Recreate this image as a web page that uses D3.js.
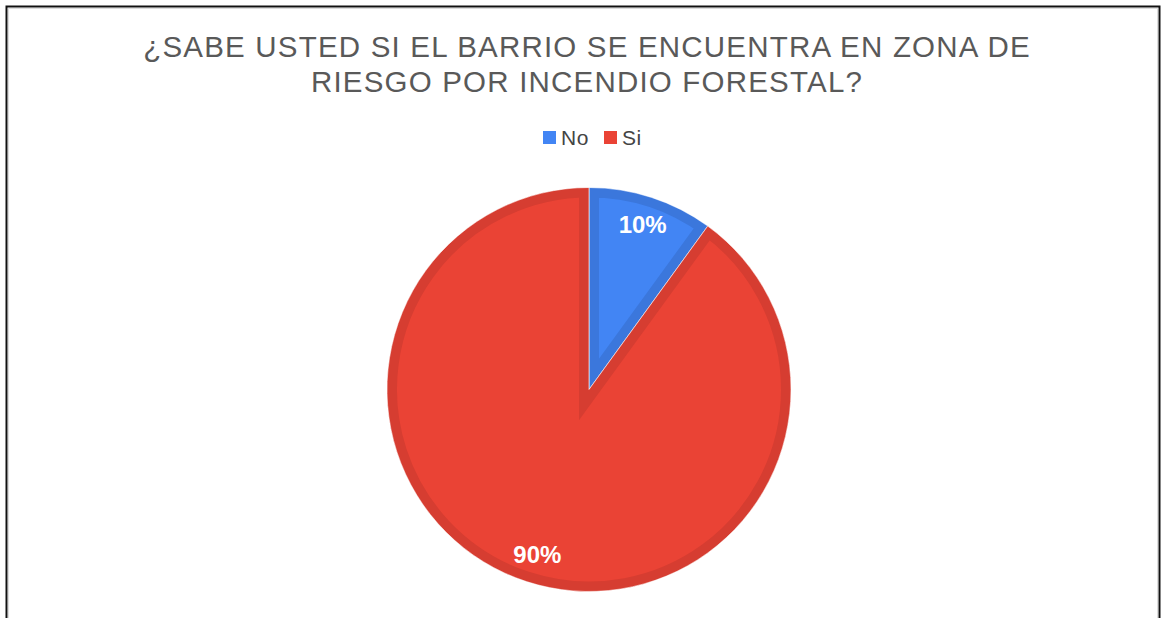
<!DOCTYPE html>
<meta charset="UTF-8">
<head>
    <script src="https://d3js.org/d3.v7.min.js"></script>
    <style>
        body { margin: 0; background: #fff; }
        .title { font: 29.5px "Liberation Sans", Arial, sans-serif; fill: #595959; letter-spacing: 1.2px; }
        .legend text { font: 21px "Liberation Sans", Arial, sans-serif; fill: #444; letter-spacing: 0.5px; }
        .label { font: bold 24px "Liberation Sans", Arial, sans-serif; fill: #fff; }
    </style>
</head>
<body>
<script>
    // chart data
    var categories = ["No", "Si"];
    var values = [10, 90];
    var labels = ["10%", "90%"];
    var titleLines = ["¿SABE USTED SI EL BARRIO SE ENCUENTRA EN ZONA DE", "RIESGO POR INCENDIO FORESTAL?"];

    var fills = ["#4285f4", "#ea4335"];
    var borders = ["#3b77dc", "#d63d31"];

    var width = 1164, height = 618;
    var cx = 589, cy = 389.5, radius = 202;

    var svg = d3.select("body").append("svg")
        .attr("width", width)
        .attr("height", height);

    // frame around the chart
    svg.append("rect")
        .attr("x", 6.5).attr("y", 6.5)
        .attr("width", 1153).attr("height", 640)
        .attr("fill", "none")
        .attr("stroke", "#111")
        .attr("stroke-width", 2);
    svg.append("rect")
        .attr("x", 8.5).attr("y", 8.5)
        .attr("width", 1149).attr("height", 640)
        .attr("fill", "none")
        .attr("stroke", "#ddd")
        .attr("stroke-width", 1);

    // title
    svg.selectAll("text.title")
        .data(titleLines)
        .enter()
        .append("text")
        .attr("class", "title")
        .attr("x", 587)
        .attr("y", function (d, i) { return 57 + i * 35; })
        .attr("text-anchor", "middle")
        .text(function (d) { return d; });

    // legend
    var legend = svg.append("g").attr("class", "legend");
    var legendX = [543, 604];
    var item = legend.selectAll("g")
        .data(categories)
        .enter()
        .append("g")
        .attr("transform", function (d, i) { return "translate(" + legendX[i] + ",130)"; });
    item.append("rect")
        .attr("width", 13).attr("height", 13).attr("y", 1)
        .attr("fill", function (d, i) { return fills[i]; });
    item.append("text")
        .attr("x", 18).attr("y", 14.5)
        .text(function (d) { return d; });

    // pie
    var pie = d3.pie().sort(null).value(function (d) { return d; });
    var arcs = pie(values);
    var arc = d3.arc().innerRadius(0).outerRadius(radius);
    var labelArc = d3.arc().innerRadius(radius * 0.86).outerRadius(radius * 0.86);

    var g = svg.append("g").attr("transform", "translate(" + cx + "," + cy + ")");
    var defs = svg.append("defs");

    defs.selectAll("clipPath")
        .data(arcs)
        .enter()
        .append("clipPath")
        .attr("id", function (d, i) { return "clip" + i; })
        .append("path")
        .attr("d", arc);

    var slice = g.selectAll("g.slice")
        .data(arcs)
        .enter()
        .append("g")
        .attr("class", "slice");

    // fill plus an inner darker border
    slice.append("path")
        .attr("d", arc)
        .attr("fill", function (d, i) { return fills[i]; })
        .attr("stroke", function (d, i) { return borders[i]; })
        .attr("stroke-width", 20)
        .attr("stroke-linejoin", "miter")
        .attr("stroke-miterlimit", 10)
        .attr("clip-path", function (d, i) { return "url(#clip" + i + ")"; });

    // thin light seam between slices
    slice.append("path")
        .attr("d", arc)
        .attr("fill", "none")
        .attr("stroke", "#fff")
        .attr("stroke-opacity", 0.6)
        .attr("stroke-width", 1);

    g.selectAll("text.label")
        .data(arcs)
        .enter()
        .append("text")
        .attr("class", "label")
        .attr("transform", function (d) { return "translate(" + labelArc.centroid(d) + ")"; })
        .attr("dx", function (d, i) { return i === 1 ? 2 : 0; })
        .attr("dy", "0.36em")
        .attr("text-anchor", "middle")
        .text(function (d, i) { return labels[i]; });
</script>
</body>
